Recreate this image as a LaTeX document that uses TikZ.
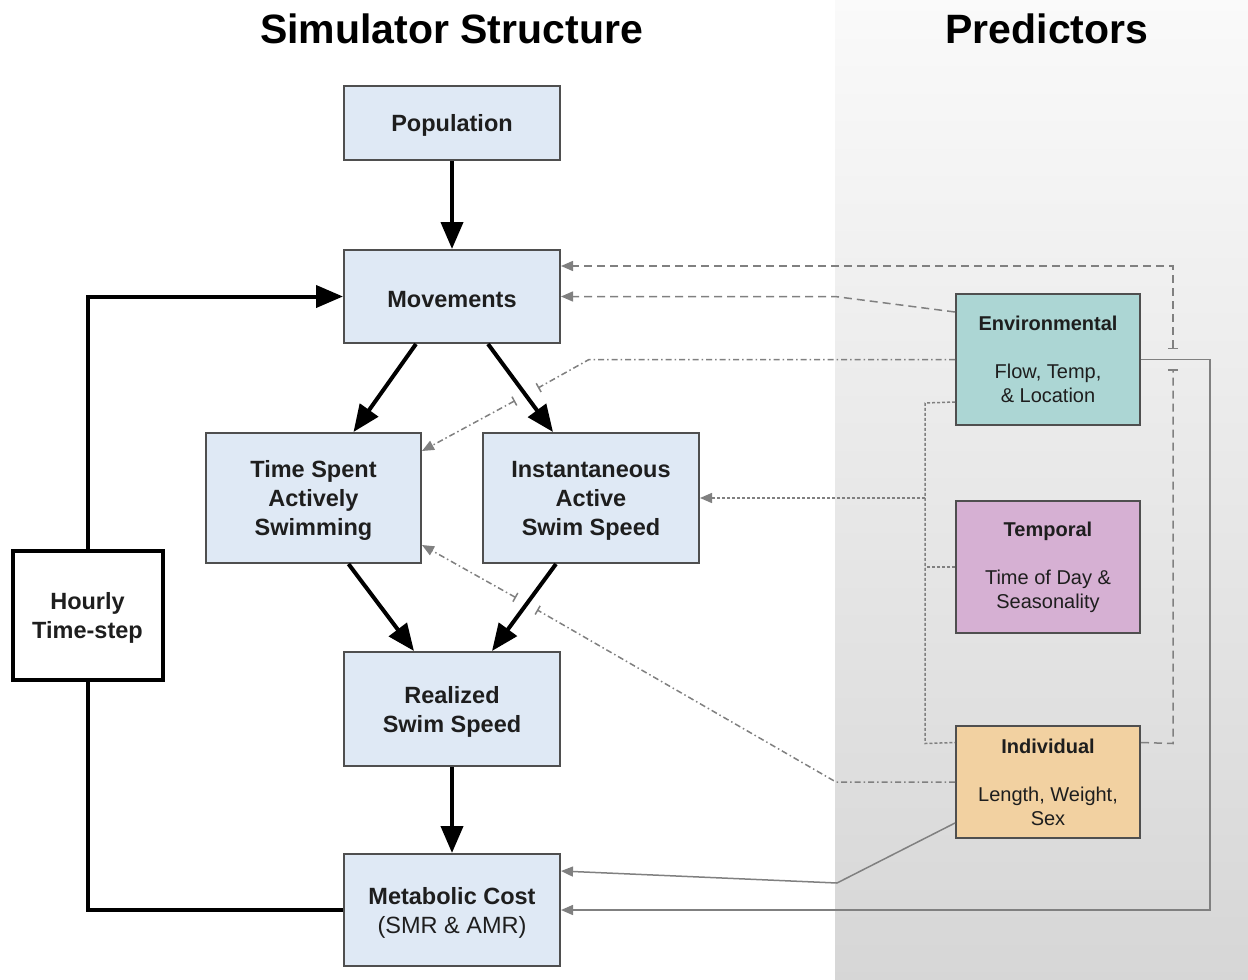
\documentclass[tikz,border=0pt]{standalone}
\usepackage{fontspec}
\setmainfont{Liberation Sans}
\usetikzlibrary{arrows.meta,calc}
\definecolor{boxblue}{HTML}{DFE9F5}
\definecolor{envc}{HTML}{ACD6D4}
\definecolor{tmpc}{HTML}{D6B0D3}
\definecolor{indc}{HTML}{F2D1A1}
\definecolor{edge}{HTML}{4F4F4F}
\definecolor{gline}{HTML}{808080}
\definecolor{txt}{HTML}{1E1E1E}
\newcommand{\dropln}{\rule{0pt}{22pt}}
\begin{document}
\begin{tikzpicture}[x=1pt,y=-1pt,
  mainbox/.style={draw=edge, line width=2pt, fill=boxblue, text=txt, inner sep=0pt,
    align=center, font=\fontsize{23.5}{29}\selectfont\bfseries, minimum width=216pt},
  predbox/.style={draw=edge, line width=2pt, inner sep=0pt, align=center, text=txt,
    font=\fontsize{20}{24}\selectfont, minimum width=184pt},
  flow/.style={line width=4pt, -{Triangle[length=27pt,width=22pt]}},
  gbase/.style={draw=gline, line width=1.5pt},
  garrow/.style={-{Triangle[length=12pt,width=10pt]}},
  gbar/.style={-{Bar[width=10pt]}},
  gbararrow/.style={{Bar[width=10pt]}-{Triangle[length=12pt,width=10pt]}},
  dashedg/.style={gbase, dash pattern=on 8pt off 5pt},
  dashdotg/.style={gbase, dash pattern=on 6pt off 3pt on 1.5pt off 3pt},
  dottedg/.style={gbase, dash pattern=on 3pt off 2pt},
  titletext/.style={font=\fontsize{41}{48}\selectfont\bfseries, anchor=base, inner sep=0pt},
]
\useasboundingbox (0,0) rectangle (1248,980);
\fill[white] (0,0) rectangle (1248,980);
\shade[top color=black!2, middle color=black!6, bottom color=black!16] (835,0) rectangle (1248,980);

% titles
\node[titletext] (t1) at (451.5,43) {Simulator Structure};
\node[titletext] (t2) at (1047,43) {Predictors};

% simulator boxes
\node[mainbox, minimum height=74pt] (pop) at (452,123) {\dropln Population};
\node[mainbox, minimum height=93pt] (mov) at (452,296.5) {\dropln Movements};
\node[mainbox, minimum width=215pt, minimum height=130pt] (tsas) at (313.5,498) {\dropln Time Spent\\Actively\\Swimming};
\node[mainbox, minimum height=130pt] (iass) at (591,498) {\dropln Instantaneous\\Active\\Swim Speed};
\node[mainbox, minimum height=114pt] (rss) at (452,709) {\dropln Realized\\Swim Speed};
\node[mainbox, minimum height=112pt, font=\fontsize{23.5}{29}\selectfont] (mc) at (452,910) {\dropln\textbf{Metabolic Cost}\\(SMR \& AMR)};
\node[draw=black, line width=4pt, fill=white, text=txt, inner sep=0pt, align=center,
  font=\fontsize{23.5}{29}\selectfont\bfseries, minimum width=150pt, minimum height=129pt] (hts) at (87.5,615.5) {\dropln Hourly\\Time-step};

% predictor boxes
\node[predbox, fill=envc, minimum height=131pt] (env) at (1048,359.5) {\textbf{Environmental}\\[24pt]Flow, Temp,\\\& Location};
\node[predbox, fill=tmpc, minimum height=132pt] (tmp) at (1048,567) {\textbf{Temporal}\\[24pt]Time of Day \&\\Seasonality};
\node[predbox, fill=indc, minimum height=112pt] (ind) at (1048,782) {\textbf{Individual}\\[24pt]Length, Weight,\\Sex};

% helper coordinates
\coordinate (a1) at (1173,743.5);
\coordinate (a2) at (1173,369);
\coordinate (a3) at (1173,349);
\coordinate (a4) at (1173,266);
\coordinate (b1) at (835,296.5);
\coordinate (c1) at (589,359.5);
\coordinate (c2) at (538,388);
\coordinate (c3) at (515,400.7);
\coordinate (d1) at (925,403);
\coordinate (d2) at (925,743.5);
\coordinate (d3) at (925,567);
\coordinate (d4) at (925,498);
\coordinate (e1) at (836,782);
\coordinate (e2) at (537,609.8);
\coordinate (e3) at (516,597.7);
\coordinate (f1) at (837,883);
\coordinate (g1) at (1210,359.5);
\coordinate (g2) at (1210,910);

% gray predictor connectors
\draw[dashedg, gbar] ([yshift=-17.5pt]ind.north east) -- (a1) -- (a2);
\draw[dashedg, gbararrow] (a3) -- (a4) -- (mov.east |- a4);
\draw[dashedg, garrow] ([yshift=-19pt]env.north west) -- (b1) -- (mov.east);
\draw[dashdotg, gbar] (env.west) -- (c1) -- (c2);
\draw[dashdotg, gbararrow] (c3) -- ([yshift=-19pt]tsas.north east);
\draw[dottedg] ([yshift=-109pt]env.north west) -- (d1) -- (d2) -- ([yshift=-17.5pt]ind.north west);
\draw[dottedg] (tmp.west) -- (d3);
\draw[dottedg, garrow] (d4) -- (iass.east);
\draw[dashdotg, gbar] (ind.west) -- (e1) -- (e2);
\draw[dashdotg, gbararrow] (e3) -- ([yshift=19pt]tsas.south east);
\draw[gbase, garrow] ([yshift=16pt]ind.south west) -- (f1) -- ([yshift=-18pt]mc.north east);
\draw[gbase, garrow] (env.east) -- (g1) -- (g2) -- (mc.east);

% black flow
\draw[flow] (pop.south) -- (mov.north);
\draw[flow] ([xshift=-36pt]mov.south) -- ([xshift=40pt]tsas.north);
\draw[flow] ([xshift=36pt]mov.south) -- ([xshift=-38pt]iass.north);
\draw[flow] ([xshift=35pt]tsas.south) -- ([xshift=-38pt]rss.north);
\draw[flow] ([xshift=-35pt]iass.south) -- ([xshift=40pt]rss.north);
\draw[flow] (rss.south) -- (mc.north);
\draw[line width=4pt] (mc.west) -| (hts.south);
\draw[flow] (hts.north) |- (mov.west);
\end{tikzpicture}
\end{document}
